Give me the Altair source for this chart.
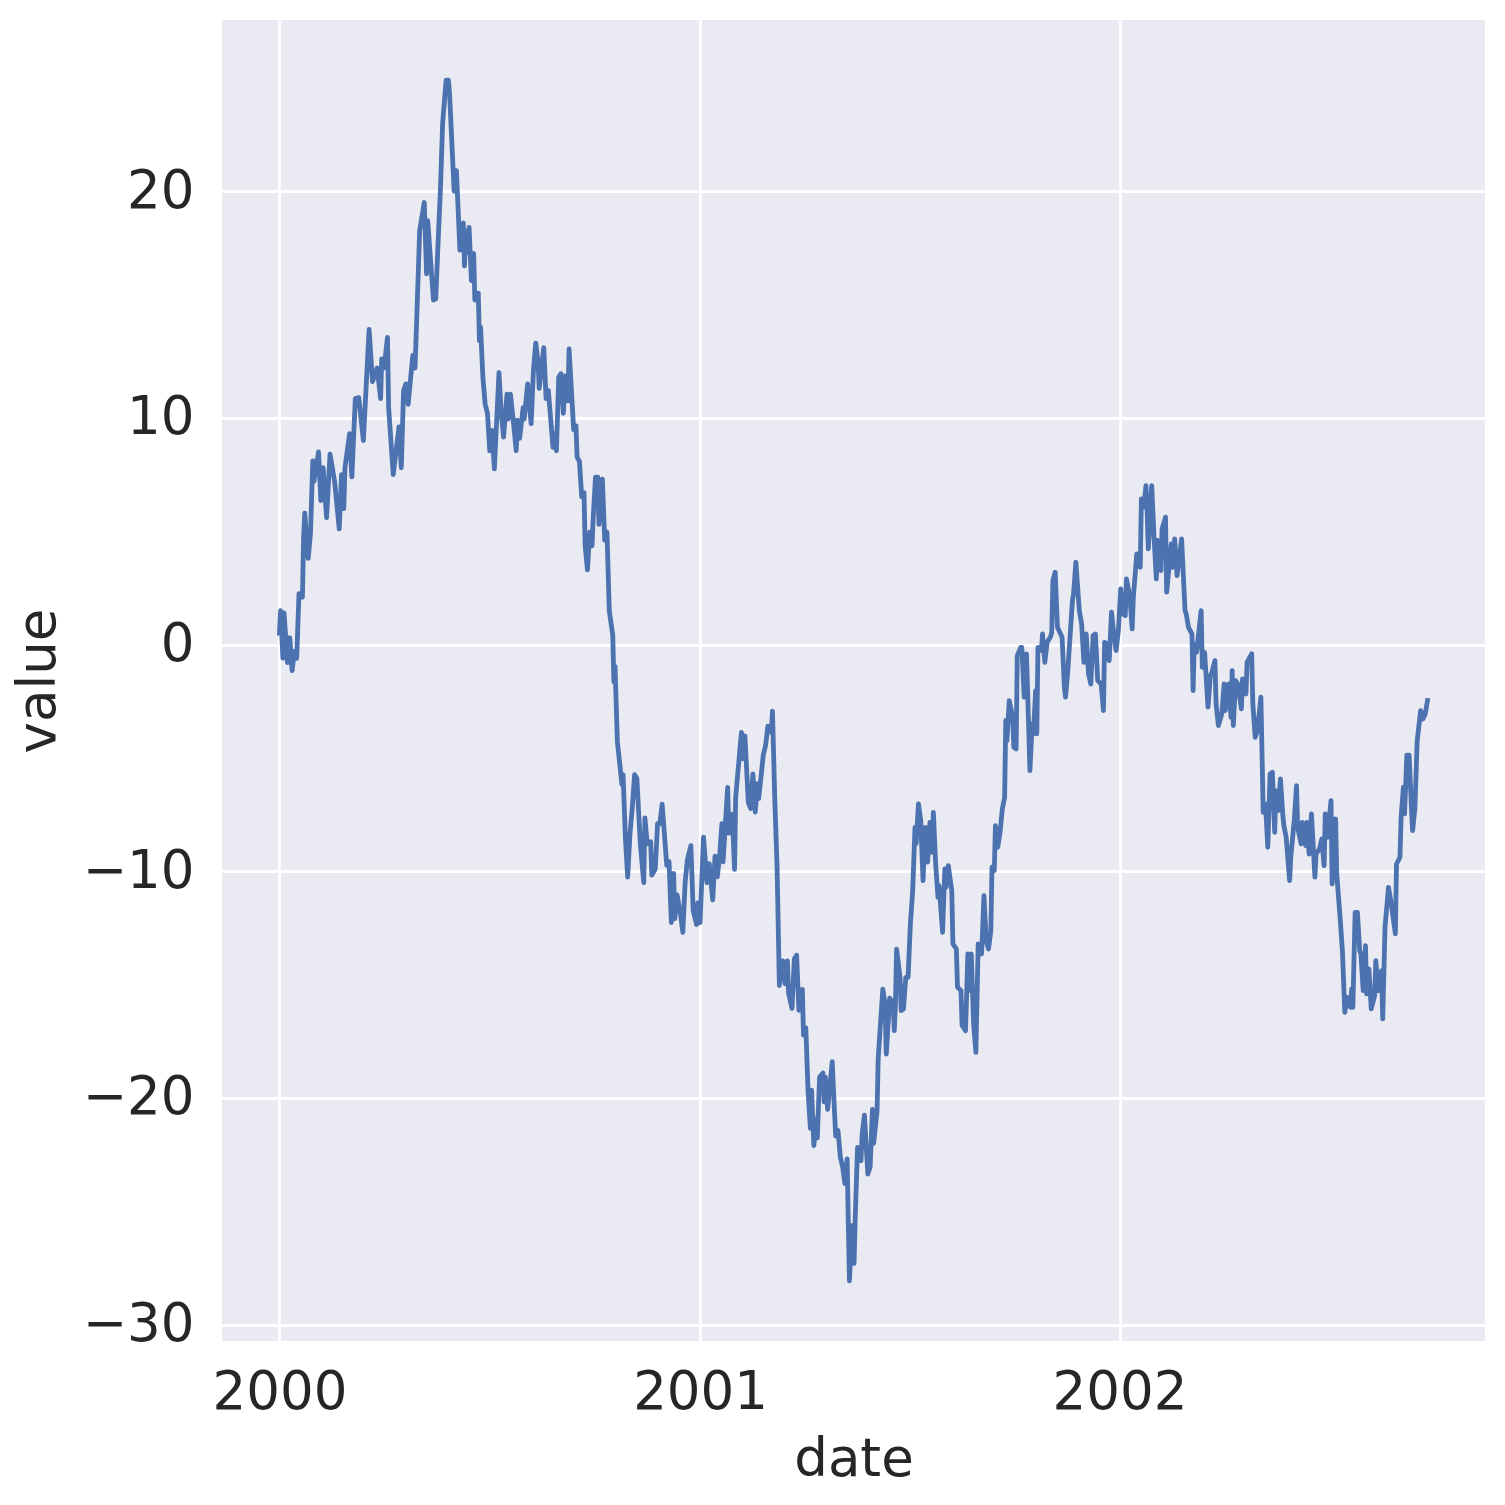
import altair as alt
import pandas as pd

# day offsets from 2000-01-01 and the series value at that day
days = [
    0, 1, 3, 4, 7, 9, 11, 13, 15, 17, 20, 21, 22, 25, 27, 29, 30, 34, 36, 38,
    41, 44, 48, 52, 54, 56, 57, 61, 63, 66, 69, 73, 78, 81, 85, 88, 89, 91, 94, 95,
    99, 104, 106, 108, 110, 112, 116, 118,
    122, 126, 128, 129, 134, 136, 138, 140, 142, 145, 147, 148, 152, 154, 157, 160,
    161, 162, 164, 165, 167, 169, 170, 173, 174, 175, 177, 179, 181, 183, 185, 187,
    191, 193, 195, 198, 199, 201, 204, 206, 207, 209, 212, 213, 216, 219, 221, 223,
    225, 226, 230, 232, 234, 238, 239, 241, 243, 245, 247, 249, 251,
    252, 256, 258, 259, 261, 263, 265, 266, 268, 270, 272, 273, 275, 277, 278, 281,
    283, 285, 287, 290, 291, 292, 294, 298, 299, 301, 303, 305, 307, 309, 311, 314,
    317, 318, 320, 323, 324, 327, 329, 331, 333, 337, 339, 341, 343, 344, 346, 349,
    351, 353, 355, 358, 360, 363, 364,
    366, 369, 372, 374, 377, 379, 381, 383, 385, 386, 390, 391, 394, 396, 397, 402,
    403, 405, 408, 410, 412, 414, 416, 417, 421, 423, 425, 428, 429, 431, 433, 435,
    438, 440, 442, 443, 446, 448, 450, 452, 455, 456, 458, 460, 462, 463, 465, 467,
    468, 470, 473, 474, 475, 477, 481, 482, 484, 486, 488, 490, 492, 494, 495, 496,
    498, 500, 501, 503, 506, 507, 509, 512, 514, 516, 517, 520, 521,
    525, 527, 528, 531, 534, 535, 536, 537, 540, 541, 543, 545, 547, 549, 551, 553,
    554, 556, 558, 560, 562, 564, 566, 568, 569, 571, 573, 574, 577, 579, 580, 582,
    585, 586, 589, 590, 593, 594, 597, 599, 600, 602, 604, 606, 608, 611, 612, 613,
    615, 617, 619, 620, 622, 623, 625, 627, 629, 631, 632, 633, 635, 638, 639, 641,
    642, 645, 646, 648, 650, 651, 653, 655, 656, 658, 659, 660, 663, 664, 666, 668,
    671, 672, 673, 675, 677,
    681, 683, 684, 686, 690, 691, 693, 696, 698, 700, 702, 704, 706, 708, 710, 712,
    715, 717, 718, 720, 722, 724, 726, 728, 730, 732, 734, 736, 737, 740, 742, 743,
    746, 749, 750, 752, 754, 755, 756, 759, 761, 763, 764, 767, 768, 771, 772, 776,
    777, 779, 781, 783, 785, 788, 789, 791, 794, 795, 796, 798, 802, 803, 805, 808,
    810, 811, 814, 815, 817, 820, 822, 823, 826, 828, 829, 830, 832, 834,
    837, 838, 841, 842, 846, 847, 849, 851, 854, 856, 858, 860, 862, 864, 866, 867,
    869, 871, 873, 874, 876, 879, 880, 883, 885, 886, 889, 890, 893, 894, 896, 898,
    901, 902, 905, 907, 909, 910, 912, 915, 916, 919, 920, 923, 925, 927, 929, 932,
    933, 934, 936, 938, 940, 941, 943, 945, 946, 948, 950, 953, 954, 956, 959, 960,
    962, 965, 967, 971, 972, 975, 976, 978, 979, 981, 983, 985, 986, 988, 990, 993,
    995, 997, 999,
]

values = [
    0.5, 1.5, -0.6, 1.4, -0.8, 0.3, -1.15, -0.3, -0.6, 2.25, 2.1, 4.7, 5.8, 3.8, 4.9, 8.1, 7.2, 8.5, 6.35, 7.8,
    5.6, 8.4, 7.2, 5.1, 7.5, 6.0, 7.8, 9.3, 7.4, 10.85, 10.9, 9.0, 13.9, 11.6, 12.2, 10.85, 12.6, 12.2, 13.55, 10.45,
    7.5, 9.6, 7.8, 11.2, 11.5, 10.6, 12.75, 12.2,
    18.25, 19.5, 16.35, 18.7, 15.2, 15.25, 17.7, 20.0, 23.0, 24.9, 24.9, 24.3, 20.0, 20.9, 17.4, 18.6,
    16.7, 18.25, 17.3, 18.4, 16.05, 17.25, 15.2, 15.5, 13.4, 14.0, 11.8, 10.6, 10.2, 8.55, 9.45, 7.75,
    12.0, 10.2, 9.15, 11.05, 9.95, 11.05, 9.6, 8.55, 9.9, 9.1, 10.45, 9.95, 11.5, 9.75, 12.1, 13.3,
    12.5, 11.3, 13.1, 10.85, 11.2, 8.7, 9.3, 8.55, 11.8, 11.95, 10.2, 11.85, 10.75,
    13.04, 9.48, 9.65, 8.26, 8.09, 6.52, 6.7, 4.35, 3.3, 4.96, 4.35, 5.57, 7.39, 7.39, 5.3, 7.3,
    4.6, 4.96, 1.48, 0.43, -1.65, -0.96, -4.26, -6.17, -5.74, -8.52, -10.26, -8.35, -7.2, -5.74, -5.9, -8.78,
    -10.5, -7.65, -8.78, -8.7, -10.17, -9.9, -7.9, -7.9, -7.04, -9.74, -9.57, -12.26, -10.09, -12.09, -11.04, -11.9,
    -12.7, -10.5, -9.48, -8.87, -11.74, -12.35, -11.4,
    -12.27, -8.49, -10.5, -9.66, -11.26, -9.33, -10.25, -9.33, -7.9, -9.58, -6.3, -8.32, -7.48, -9.92, -6.72, -3.87,
    -5.04, -4.03, -6.97, -7.23, -5.71, -7.39, -6.13, -6.8, -4.87, -4.45, -3.6, -3.87, -2.94, -6.8, -9.83, -15.04,
    -13.95, -14.96, -13.95, -15.38, -16.05, -13.87, -13.7, -16.13, -15.21, -17.23, -16.9, -19.75, -21.34, -19.66, -22.1, -20.92,
    -21.76, -19.08, -18.9, -20.17, -19.08, -20.5, -18.4, -19.58, -21.68, -21.43, -22.6, -23.03, -23.78, -22.69, -25.63, -28.07,
    -25.63, -27.3, -25.3, -22.18, -22.77, -21.6, -20.76, -23.36, -23.03, -20.5, -22.0, -20.59, -18.24,
    -15.2, -15.85, -18.06, -15.6, -15.85, -17.03, -15.85, -13.43, -14.68, -16.15, -16.07, -14.68, -14.68, -12.32, -10.85, -8.06,
    -8.79, -7.03, -7.76, -10.41, -8.06, -9.6, -7.84, -9.16, -7.4, -9.68, -11.15, -10.63, -12.69, -9.9, -10.7, -9.75,
    -10.85, -13.2, -13.43, -15.12, -15.26, -16.8, -17.03, -13.65, -15.26, -13.65, -16.74, -17.99, -13.2, -13.65, -12.4, -11.07,
    -13.06, -13.43, -12.62, -9.82, -9.97, -7.99, -8.94, -8.28, -7.25, -6.74, -3.35, -4.24, -2.47, -3.21, -4.53, -4.6,
    -0.49, -0.12, -0.12, -2.32, -0.41, -2.03, -5.56, -3.5, -3.94, -2.03, -3.94, -0.12, -0.26, 0.47, -0.78, 0.1,
    0.35, 0.54, 2.82, 3.19, 0.76,
    0.32, -1.88, -2.32, -1.15, 1.94, 2.24, 3.63, 1.5, 0.91, -0.78, 0.47, -1.29, -1.74, 0.4, 0.47, -1.59,
    -1.74, -2.91, 0.1, 0.03, -0.71, 1.43, 0.47, -0.26, 0.62, 2.46, 1.35, 1.28, 2.9, 2.09, 0.69, 2.09,
    4.0, 3.41, 6.43, 6.06, 7.01, 5.91, 4.22, 7.01, 4.74, 2.9, 4.59, 3.26, 5.1, 5.62, 2.31, 4.44,
    3.41, 4.66, 3.04, 3.85, 4.66, 1.5, 1.35, 0.76, 0.47, -2.03, 0.03, -0.34, 1.5, -1.0, -0.34, -2.76,
    -1.37, -1.29, -0.71, -2.62, -3.57, -3.06, -1.74, -2.91, -1.74, -3.21, -1.15, -3.57, -1.59, -1.74,
    -2.84, -1.51, -2.18, -0.78, -0.41, -2.62, -4.09, -3.79, -2.32, -7.4, -7.03, -8.94, -5.71, -5.63, -8.28, -6.44,
    -7.32, -5.93, -7.47, -7.99, -8.5, -10.41, -9.38, -7.76, -6.22, -8.06, -8.79, -7.84, -8.87, -7.84, -9.24, -7.47,
    -10.26, -9.24, -9.01, -8.57, -9.75, -7.47, -8.5, -6.88, -10.56, -7.69, -10.12, -12.1, -13.57, -16.22, -15.56, -16.0,
    -15.19, -16.0, -11.81, -11.81, -13.5, -13.65, -15.26, -13.28, -15.41, -14.31, -16.07, -15.49, -13.94, -15.26, -14.38, -16.51,
    -12.47, -10.71, -11.29, -12.76, -9.68, -9.38, -7.62, -6.29, -7.47, -4.88, -4.88, -7.24, -8.21, -7.24, -4.24, -2.91,
    -3.28, -3.06, -2.47,
]

year_ticks = [2000, 2001, 2002]
value_ticks = [-30, -20, -10, 0, 10, 20]

start = pd.Timestamp("2000-01-01")
df = pd.DataFrame({
    "date": [(start + pd.Timedelta(days=d)).strftime("%Y-%m-%d") for d in days],
    "value": values,
})

chart = alt.Chart(df).mark_line(
    color="#4C72B0", strokeWidth=4.8, strokeJoin="round", strokeCap="square", clip=True
).encode(
    x=alt.X(
        "date:T",
        title="date",
        scale=alt.Scale(
            type="utc",
            domain=[
                alt.DateTime(year=1999, month=11, date=12, utc=True),
                alt.DateTime(year=2002, month=11, date=15, utc=True),
            ],
            nice=False,
        ),
        axis=alt.Axis(
            values=[alt.DateTime(year=y, month=1, date=1, utc=True) for y in year_ticks],
            labelExpr="utcFormat(datum.value, '%Y')",
            labelPadding=25,
            titlePadding=14,
            labelFlush=False,
        ),
    ),
    y=alt.Y(
        "value:Q",
        title="value",
        scale=alt.Scale(domain=[-30.72, 27.55], nice=False, zero=False),
        axis=alt.Axis(
            values=value_ticks,
            labelExpr="replace(datum.label, '-', '\u2212')",
            labelPadding=28,
            titlePadding=17,
        ),
    ),
).properties(
    width=1263,
    height=1321,
    autosize=alt.AutoSizeParams(type="none"),
    padding={"left": 214, "top": 12, "right": 12, "bottom": 160},
    background="white",
).configure_view(
    fill="#EAEAF2", stroke=None
).configure_axis(
    domain=False,
    ticks=False,
    grid=True,
    gridColor="white",
    gridWidth=2.8,
    labelFont="DejaVu Sans",
    labelFontSize=53,
    labelColor="#262626",
    titleFont="DejaVu Sans",
    titleFontSize=53,
    titleFontWeight="normal",
    titleColor="#262626",
)

chart.save("out.html", embed_options={"renderer": "svg", "actions": False})
